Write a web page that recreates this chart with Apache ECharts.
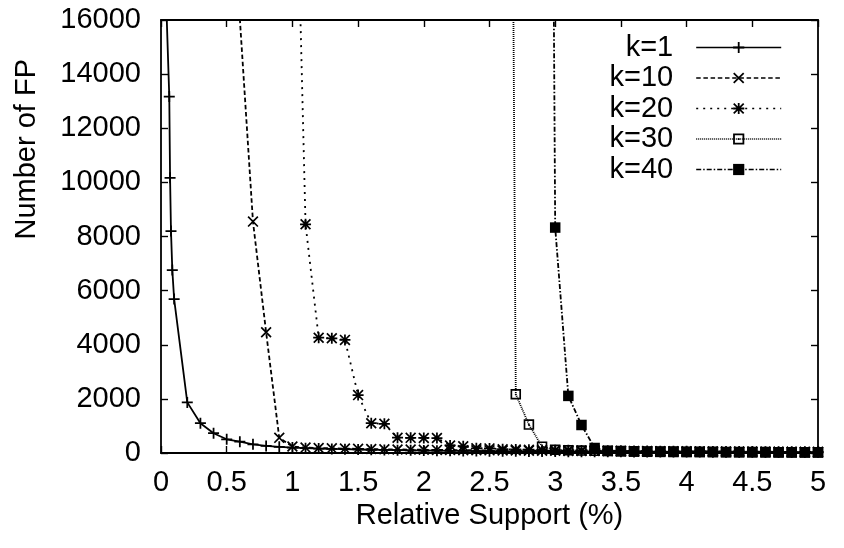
<!DOCTYPE html>
<html><head><meta charset="utf-8">
<script src="https://cdn.jsdelivr.net/npm/echarts@6/dist/echarts.min.js"></script>
<style>html,body{margin:0;padding:0;background:#fff}#c{width:844px;height:548px}</style>
</head><body><div id="c"></div>
<script>
const seriesNames = ['k=1', 'k=10', 'k=20', 'k=30', 'k=40'];

const k1X = [0.04, 0.063, 0.069, 0.076, 0.086, 0.1, 0.2, 0.3, 0.4, 0.5, 0.6, 0.7, 0.8, 0.9, 1.0,
  1.1, 1.2, 1.3, 1.4, 1.5, 1.6, 1.7, 1.8, 1.9, 2.0, 2.1, 2.2, 2.3, 2.4, 2.5, 2.6, 2.7, 2.8, 2.9, 3.0,
  3.1, 3.2, 3.3, 3.4, 3.5, 3.6, 3.7, 3.8, 3.9, 4.0, 4.1, 4.2, 4.3, 4.4, 4.5, 4.6, 4.7, 4.8, 4.9, 5.0];
const k1Y = [16600, 13170, 10170, 8200, 6760, 5690, 1870, 1100, 730, 506, 418, 320, 260, 230, 200,
  180, 165, 150, 140, 130, 120, 112, 105, 98, 92, 86, 81, 76, 72, 68, 64, 61, 58, 55, 52,
  50, 48, 46, 44, 42, 40, 38, 37, 35, 34, 33, 32, 31, 30, 29, 28, 27, 26, 25, 24];

const k10X = [0.6, 0.7, 0.8, 0.9, 1.0, 1.1, 1.2, 1.3, 1.4, 1.5, 1.6, 1.7, 1.8, 1.9, 2.0,
  2.1, 2.2, 2.3, 2.4, 2.5, 2.6, 2.7, 2.8, 2.9, 3.0, 3.1, 3.2, 3.3, 3.4, 3.5, 3.6, 3.7, 3.8, 3.9, 4.0,
  4.1, 4.2, 4.3, 4.4, 4.5, 4.6, 4.7, 4.8, 4.9, 5.0];
const k10Y = [16050, 8550, 4460, 560, 240, 200, 185, 172, 162, 153, 145, 138, 131, 125, 120,
  115, 110, 106, 102, 98, 94, 90, 87, 84, 81, 78, 75, 72, 70, 68, 66, 64, 62, 60, 58,
  56, 54, 52, 50, 48, 46, 44, 42, 40, 38];

const k20X = [1.0, 1.1, 1.2, 1.3, 1.4, 1.5, 1.6, 1.7, 1.8, 1.9, 2.0,
  2.1, 2.2, 2.3, 2.4, 2.5, 2.6, 2.7, 2.8, 2.9, 3.0, 3.1, 3.2, 3.3, 3.4, 3.5, 3.6, 3.7, 3.8, 3.9, 4.0,
  4.1, 4.2, 4.3, 4.4, 4.5, 4.6, 4.7, 4.8, 4.9, 5.0];
const k20Y = [28000, 8450, 4260, 4240, 4180, 2140, 1100, 1080, 566, 560, 556,
  552, 280, 245, 175, 170, 140, 130, 120, 112, 105, 100, 95, 90, 85, 80, 76, 72, 68, 65, 62,
  60, 58, 56, 54, 52, 50, 48, 46, 44, 42];

const k30X = [2.6, 2.7, 2.8, 2.9, 3.0, 3.1, 3.2, 3.3, 3.4, 3.5, 3.6, 3.7, 3.8, 3.9, 4.0,
  4.1, 4.2, 4.3, 4.4, 4.5, 4.6, 4.7, 4.8, 4.9, 5.0];
const k30Y = [80000, 2170, 1050, 233, 120, 100, 90, 80, 75, 70, 65, 60, 56, 52, 48,
  45, 42, 40, 38, 36, 34, 32, 30, 28, 26];

const k40X = [2.9, 3.0, 3.1, 3.2, 3.3, 3.4, 3.5, 3.6, 3.7, 3.8, 3.9, 4.0,
  4.1, 4.2, 4.3, 4.4, 4.5, 4.6, 4.7, 4.8, 4.9, 5.0];
const k40Y = [85000, 8330, 2110, 1035, 185, 80, 60, 50, 45, 40, 36, 33,
  30, 28, 26, 24, 22, 20, 19, 18, 17, 16];

const xTitle = 'Relative Support (%)';
const yTitle = 'Number of FP';

const FONT = 'Liberation Sans, Arial, Helvetica, sans-serif';
const FS = 29;
const pair = (xs, ys) => xs.map((x, i) => [x, ys[i]]);

const SYM_PLUS = 'path://M4.2,0H5.8V10H4.2ZM0,4.2H10V5.8H0Z';
const SYM_CROSS = 'path://M0,1.1L1.1,0L10,8.9L8.9,10ZM8.9,0L10,1.1L1.1,10L0,8.9Z';
const SYM_STAR = 'path://M0,1.1L1.1,0L10,8.9L8.9,10ZM8.9,0L10,1.1L1.1,10L0,8.9ZM4.2,0H5.8V10H4.2ZM0,4.2H10V5.8H0Z';
const SYM_OSQ = 'path://M0,0H10V10H0ZM1.6,1.6V8.4H8.4V1.6ZM4.2,4.4H5.8V6H4.2Z';

const styles = [
  { sym: SYM_PLUS, size: 11, dash: 'solid' },
  { sym: SYM_CROSS, size: 11, dash: [4.5, 2.7] },
  { sym: SYM_STAR, size: 11, dash: [2, 5] },
  { sym: SYM_OSQ, size: 10.5, dash: [1, 1] },
  { sym: 'rect', size: 10.5, dash: [5, 2, 1.5, 2] }
];
const dataSets = [pair(k1X, k1Y), pair(k10X, k10Y), pair(k20X, k20Y), pair(k30X, k30Y), pair(k40X, k40Y)];

const axisLineStyle = { color: '#000', width: 1.8 };
const tickStyle = { show: true, inside: true, length: 7, lineStyle: { color: '#000', width: 1.4 } };

const chart = echarts.init(document.getElementById('c'), null, { renderer: 'canvas' });
chart.setOption({
  animation: false,
  backgroundColor: '#fff',
  textStyle: { fontFamily: FONT },
  grid: { left: 161, right: 26, top: 20, bottom: 95, containLabel: false },
  legend: {
    orient: 'vertical',
    align: 'right',
    right: 57,
    top: 28,
    itemWidth: 85,
    itemHeight: 14,
    itemGap: 1.5,
    textStyle: { fontSize: FS, color: '#000', fontFamily: FONT, padding: [0, 18, 0, 0] },
    data: seriesNames.map((n, i) => ({
      name: n,
      lineStyle: { type: styles[i].dash, width: 1.6, color: '#000' }
    }))
  },
  xAxis: [
    {
      type: 'value', min: 0, max: 5, interval: 0.5, position: 'bottom',
      axisLine: { show: true, onZero: false, lineStyle: axisLineStyle },
      axisTick: tickStyle,
      splitLine: { show: false },
      axisLabel: { fontSize: FS, color: '#000', margin: 15, fontFamily: FONT, formatter: v => String(v) },
      name: xTitle, nameLocation: 'middle', nameGap: 46,
      nameTextStyle: { fontSize: FS, color: '#000', fontFamily: FONT }
    },
    {
      type: 'value', min: 0, max: 5, interval: 0.5, position: 'top',
      axisLine: { show: true, onZero: false, lineStyle: axisLineStyle },
      axisTick: tickStyle, axisLabel: { show: false }, splitLine: { show: false }
    }
  ],
  yAxis: [
    {
      type: 'value', min: 0, max: 16000, interval: 2000, position: 'left',
      axisLine: { show: true, onZero: false, lineStyle: axisLineStyle },
      axisTick: tickStyle,
      splitLine: { show: false },
      axisLabel: { fontSize: FS, color: '#000', margin: 20, fontFamily: FONT, formatter: v => String(v) },
      name: yTitle, nameLocation: 'middle', nameGap: 120,
      nameTextStyle: { fontSize: FS, color: '#000', fontFamily: FONT, align: 'left', padding: [0, 0, 0, -3] }
    },
    {
      type: 'value', min: 0, max: 16000, interval: 2000, position: 'right',
      axisLine: { show: true, onZero: false, lineStyle: axisLineStyle },
      axisTick: tickStyle, axisLabel: { show: false }, splitLine: { show: false }
    }
  ],
  series: seriesNames.map((n, i) => ({
    name: n,
    type: 'line',
    xAxisIndex: 0,
    yAxisIndex: 0,
    data: dataSets[i],
    clip: true,
    symbol: styles[i].sym,
    symbolSize: styles[i].size,
    symbolKeepAspect: true,
    showAllSymbol: true,
    color: '#000',
    itemStyle: { color: '#000', borderWidth: 0 },
    lineStyle: { color: '#000', width: 1.8, type: styles[i].dash },
    emphasis: { disabled: true },
    z: 2 + i
  }))
});
</script>
</body></html>
